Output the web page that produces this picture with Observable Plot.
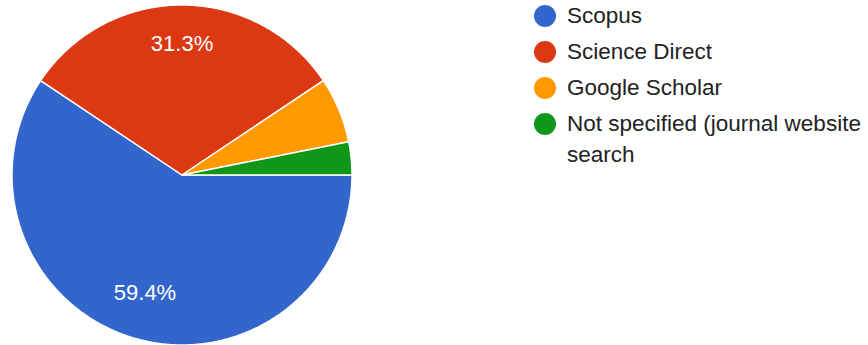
<!DOCTYPE html>
<html>
<head>
<meta charset="utf-8">
<script src="https://cdn.jsdelivr.net/npm/d3@7"></script>
<script src="https://cdn.jsdelivr.net/npm/@observablehq/plot@0.6"></script>
<style>
  html, body { margin: 0; padding: 0; background: #fff; }
  #wrap { position: relative; width: 868px; height: 345px; overflow: hidden; font-family: "Liberation Sans", Arial, sans-serif; }
  #chart { position: absolute; left: 0; top: 0; }
  #legend { position: absolute; left: 534px; top: 3px; width: 334px; }
  .item { display: flex; align-items: flex-start; margin-bottom: 8px; }
  .sw { width: 22px; height: 22px; border-radius: 50%; flex: none; margin-top: 2px; margin-right: 11px; }
  .lbl { font-size: 22.5px; line-height: 31px; color: #222; margin-top: -3px; white-space: nowrap; }
  .lbl span { display: block; }
</style>
</head>
<body>
<div id="wrap"><div id="chart"></div><div id="legend"></div></div>
<script>
// Data
const sources = ["Scopus", "Science Direct", "Google Scholar", "Not specified (journal website search"];
const legendLines = [["Scopus"], ["Science Direct"], ["Google Scholar"], ["Not specified (journal website", "search"]];
const counts = [19, 10, 2, 1];
const colors = ["#3366cc", "#dc3912", "#ff9900", "#109618"];

const R = 170;
const rows = sources.map((s, i) => ({source: s, count: counts[i]}));
const total = d3.sum(counts);
const arcs = d3.pie().value(d => d.count).sort(null).startAngle(Math.PI / 2).endAngle(Math.PI / 2 + 2 * Math.PI)(rows);

// polygon points for each slice
const pts = [];
for (const a of arcs) {
  const src = a.data.source;
  pts.push({source: src, x: 0, y: 0});
  const n = Math.max(4, Math.ceil((a.endAngle - a.startAngle) / 0.01));
  for (let k = 0; k <= n; k++) {
    const t = a.startAngle + (a.endAngle - a.startAngle) * k / n;
    pts.push({source: src, x: R * Math.sin(t), y: R * Math.cos(t)});
  }
  pts.push({source: src, x: 0, y: 0});
}
const labels = arcs
  .filter(a => a.data.count / total > 0.1)
  .map(a => {
    const m = (a.startAngle + a.endAngle) / 2;
    return {x: 0.75 * R * Math.sin(m), y: 0.75 * R * Math.cos(m), text: d3.format(".1%")(a.data.count / total)};
  });

const W = 363, H = 345, cx = 181.5, cy = 174.5;
const plot = Plot.plot({
  width: W, height: H,
  margin: 0,
  x: {domain: [-cx, W - cx], axis: null},
  y: {domain: [-(H - cy), cy], axis: null},
  color: {domain: sources, range: colors},
  style: {fontFamily: "'Liberation Sans', Arial, sans-serif", background: "transparent"},
  marks: [
    Plot.line(pts, {x: "x", y: "y", z: "source", fill: "source", stroke: "white", strokeWidth: 1.5, strokeLinejoin: "round", curve: "linear"}),
    Plot.text(labels, {x: "x", y: "y", text: "text", fill: "white", fontSize: 22, dy: -4})
  ]
});
document.getElementById("chart").appendChild(plot);

const legend = document.getElementById("legend");
sources.forEach((s, i) => {
  const item = document.createElement("div");
  item.className = "item";
  const sw = document.createElement("div");
  sw.className = "sw";
  sw.style.background = colors[i];
  const lb = document.createElement("div");
  lb.className = "lbl";
  legendLines[i].forEach(t => {
    const sp = document.createElement("span");
    sp.textContent = t;
    lb.appendChild(sp);
  });
  item.appendChild(sw); item.appendChild(lb);
  legend.appendChild(item);
});
</script>
</body>
</html>
